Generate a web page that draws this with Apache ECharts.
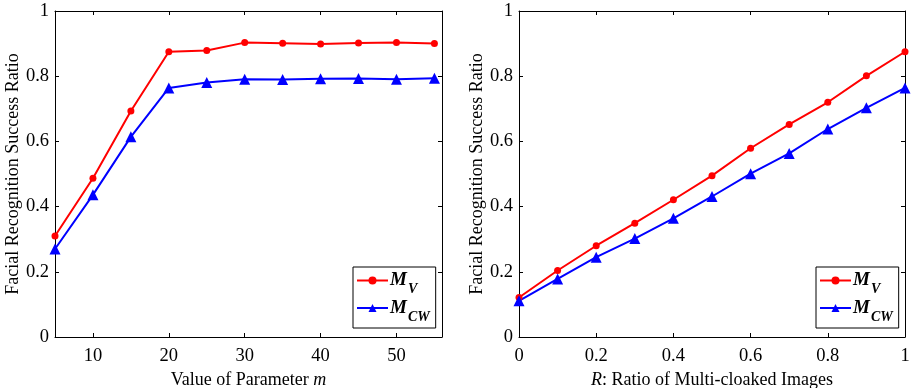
<!DOCTYPE html>
<html>
<head>
<meta charset="utf-8">
<script src="https://cdn.jsdelivr.net/npm/echarts@6/dist/echarts.min.js"></script>
<style>
  html, body { margin: 0; padding: 0; background: #fff; }
  #chart { width: 911px; height: 388px; }
</style>
</head>
<body>
<div id="chart"></div>
<script>
// Left panel: success ratio versus parameter m
const paramM = [5, 10, 15, 20, 25, 30, 35, 40, 45, 50, 55];
const mvByM  = [0.310, 0.487, 0.693, 0.875, 0.879, 0.903, 0.901, 0.899, 0.902, 0.903, 0.900];
const mcwByM = [0.270, 0.436, 0.614, 0.764, 0.781, 0.791, 0.790, 0.792, 0.793, 0.791, 0.794];
const mTicks = [10, 20, 30, 40, 50];

// Right panel: success ratio versus ratio R of multi-cloaked images
const ratioR = [0, 0.1, 0.2, 0.3, 0.4, 0.5, 0.6, 0.7, 0.8, 0.9, 1.0];
const mvByR  = [0.121, 0.204, 0.280, 0.349, 0.421, 0.495, 0.579, 0.652, 0.720, 0.801, 0.875];
const mcwByR = [0.111, 0.178, 0.245, 0.302, 0.364, 0.431, 0.501, 0.563, 0.638, 0.703, 0.764];

const seriesNames = ['M_V', 'M_CW'];

const FONT = 'Liberation Serif';
const TICK_FS = 18.5;
const NAME_FS = 18;
const zip = (xs, ys) => xs.map((x, i) => [x, ys[i]]);

const tickStyle = { show: true, inside: true, length: 4, lineStyle: { color: '#000', width: 1 } };
const lineStyle = { show: true, onZero: false, lineStyle: { color: '#000', width: 1 } };
const labelStyle = { color: '#000', fontFamily: FONT, fontSize: TICK_FS };
const nameRich = {
  n: { fontFamily: FONT, fontSize: NAME_FS, color: '#000' },
  i: { fontFamily: FONT, fontSize: NAME_FS, fontStyle: 'italic', color: '#000' }
};

function xPair(gridIndex, min, max, tickValues, interval, name) {
  const tick = Object.assign({}, tickStyle, tickValues ? { customValues: tickValues } : {});
  const bottom = {
    type: 'value', gridIndex, min, max, position: 'bottom',
    axisLine: lineStyle, axisTick: tick, splitLine: { show: false },
    axisLabel: Object.assign({ margin: 10 }, labelStyle, tickValues ? { customValues: tickValues } : {}),
    name, nameLocation: 'middle', nameGap: 27,
    nameTextStyle: { color: '#000', fontFamily: FONT, fontSize: NAME_FS, rich: nameRich }
  };
  const top = {
    type: 'value', gridIndex, min, max, position: 'top',
    axisLine: lineStyle, axisTick: tick, splitLine: { show: false },
    axisLabel: { show: false }
  };
  if (interval) { bottom.interval = interval; top.interval = interval; }
  return [bottom, top];
}

function yPair(gridIndex) {
  const common = { type: 'value', gridIndex, min: 0, max: 1, interval: 0.2,
    axisLine: lineStyle, axisTick: tickStyle, splitLine: { show: false } };
  return [
    Object.assign({}, common, {
      position: 'left',
      axisLabel: Object.assign({ margin: 6 }, labelStyle),
      name: 'Facial Recognition Success Ratio', nameLocation: 'middle', nameGap: 33,
      nameTextStyle: { color: '#000', fontFamily: FONT, fontSize: NAME_FS }
    }),
    Object.assign({}, common, { position: 'right', axisLabel: { show: false } })
  ];
}

const leftX = xPair(0, 5, 56, mTicks, null, '{n|Value of Parameter }{i|m}');
const rightX = xPair(1, 0, 1, null, 0.2, '{i|R}{n|: Ratio of Multi-cloaked Images}');

function makeSeries(name, data, axisIdx, color, symbol, size) {
  return {
    name, type: 'line', data, xAxisIndex: axisIdx, yAxisIndex: axisIdx,
    symbol, symbolSize: size, showSymbol: true, clip: false,
    lineStyle: { color, width: 2 }, itemStyle: { color },
    emphasis: { disabled: true }, animation: false
  };
}

const legendRich = {
  m: { fontFamily: FONT, fontSize: 19, fontWeight: 'bold', fontStyle: 'italic', color: '#000' },
  s: { fontFamily: FONT, fontSize: 14, fontWeight: 'bold', fontStyle: 'italic', color: '#000', padding: [18, 0, 0, 1] }
};
function legendAt(left) {
  return {
    left, top: 267, orient: 'vertical', data: seriesNames,
    borderColor: '#000', borderWidth: 1, backgroundColor: '#fff', borderRadius: 0,
    padding: [4, 6, 4, 3], itemWidth: 31, itemHeight: 10, itemGap: 2,
    selectedMode: false,
    formatter: n => n === 'M_V' ? '{m|M}{s|V}' : '{m|M}{s|CW}',
    textStyle: { rich: legendRich, padding: [0, 0, 0, -3] }
  };
}

const gridCommon = { top: 11, width: 387, height: 326, outerBoundsMode: 'none', containLabel: false };

const chart = echarts.init(document.getElementById('chart'), null, { renderer: 'canvas' });
chart.setOption({
  backgroundColor: '#fff',
  animation: false,
  grid: [
    Object.assign({ left: 55 }, gridCommon),
    Object.assign({ left: 519 }, gridCommon, { width: 386 })
  ],
  xAxis: [...leftX, ...rightX],
  yAxis: [...yPair(0), ...yPair(1)],
  legend: [legendAt(353), legendAt(816)],
  series: [
    makeSeries('M_V', zip(paramM, mvByM), 0, '#ff0000', 'circle', 7),
    makeSeries('M_CW', zip(paramM, mcwByM), 0, '#0000ff', 'triangle', 11),
    makeSeries('M_V', zip(ratioR, mvByR), 2, '#ff0000', 'circle', 7),
    makeSeries('M_CW', zip(ratioR, mcwByR), 2, '#0000ff', 'triangle', 11)
  ]
});
</script>
</body>
</html>
